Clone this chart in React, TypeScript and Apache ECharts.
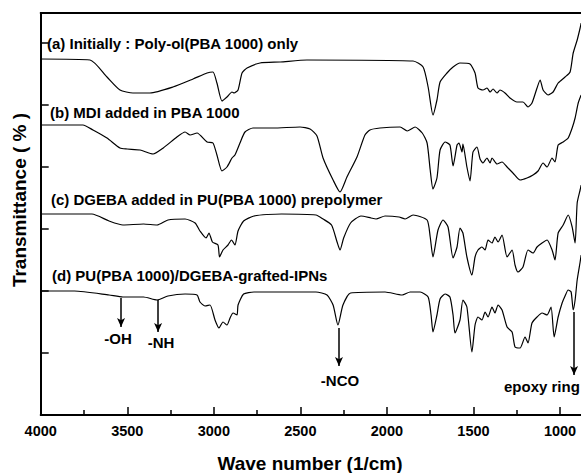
import React, { useEffect, useRef } from "react";
import * as echarts from "echarts";

// Wavenumber (1/cm) vs transmittance (arbitrary offset units)
const specA: [number, number][] = [
  [4000, 356], [3715, 355], [3617, 338], [3542, 325], [3467, 322], [3369, 322], [3236, 328],
  [3120, 336], [3039, 342], [3005, 343], [2982, 332], [2953, 314], [2924, 318], [2895, 323],
  [2883, 322], [2860, 325], [2837, 342], [2808, 347], [2733, 352], [2617, 353], [2462, 355],
  [1849, 354], [1791, 348], [1762, 328], [1734, 300], [1711, 315], [1693, 333], [1653, 342],
  [1618, 348], [1578, 352], [1520, 351], [1491, 342], [1474, 327], [1445, 325], [1422, 327],
  [1404, 323], [1387, 326], [1364, 322], [1347, 325], [1318, 322], [1289, 317], [1249, 313],
  [1214, 313], [1185, 308], [1162, 312], [1133, 327], [1115, 335], [1098, 325], [1069, 320],
  [1040, 323], [1011, 332], [971, 338], [942, 343], [924, 362], [901, 375], [884, 387], [878, 392],
];

const specB: [number, number][] = [
  [4000, 290], [3756, 290], [3698, 285], [3617, 277], [3542, 267], [3501, 266], [3426, 265],
  [3351, 261], [3292, 267], [3213, 278], [3166, 283], [3137, 280], [3097, 282], [3039, 273],
  [3005, 272], [2982, 260], [2953, 244], [2924, 248], [2895, 257], [2878, 260], [2849, 272],
  [2820, 283], [2774, 287], [2658, 287], [2502, 288], [2444, 286], [2404, 279], [2369, 257],
  [2311, 235], [2271, 223], [2231, 238], [2173, 258], [2127, 280], [2098, 285], [2040, 287],
  [1924, 288], [1883, 284], [1837, 288], [1796, 282], [1768, 272], [1750, 245], [1734, 226],
  [1711, 237], [1693, 265], [1664, 273], [1636, 270], [1618, 249], [1595, 270], [1584, 272],
  [1566, 263], [1561, 271], [1538, 248], [1520, 234], [1503, 263], [1480, 268], [1462, 256],
  [1445, 252], [1422, 257], [1404, 252], [1393, 257], [1364, 251], [1335, 253], [1306, 248],
  [1272, 242], [1231, 235], [1191, 237], [1156, 240], [1127, 244], [1098, 252], [1075, 248],
  [1046, 257], [1029, 253], [1011, 270], [982, 273], [953, 277], [930, 287], [913, 297],
  [895, 312], [878, 320],
];

const specC: [number, number][] = [
  [4000, 201], [3704, 201], [3605, 194], [3525, 190], [3406, 191], [3328, 190], [3265, 195],
  [3166, 196], [3108, 192], [3080, 184], [3045, 177], [3028, 182], [3008, 173], [2976, 170],
  [2967, 158], [2947, 165], [2918, 170], [2898, 175], [2878, 170], [2860, 184], [2828, 194],
  [2768, 199], [2609, 201], [2410, 200], [2369, 196], [2320, 190], [2288, 173], [2271, 165],
  [2250, 177], [2210, 192], [2150, 199], [2092, 197], [2063, 196], [2011, 199], [1930, 198],
  [1895, 196], [1849, 200], [1768, 195], [1750, 178], [1734, 158], [1705, 185], [1676, 195],
  [1647, 188], [1618, 157], [1595, 168], [1578, 187], [1561, 182], [1538, 158], [1509, 140],
  [1491, 158], [1474, 165], [1451, 168], [1433, 165], [1416, 175], [1393, 172], [1376, 178],
  [1358, 173], [1335, 180], [1306, 158], [1277, 165], [1260, 150], [1243, 143], [1214, 148],
  [1185, 165], [1156, 162], [1133, 168], [1104, 172], [1075, 175], [1046, 165], [1029, 155],
  [1011, 182], [982, 190], [953, 200], [930, 188], [913, 172], [901, 212], [884, 225], [878, 230],
];

const specD: [number, number][] = [
  [4000, 124], [3805, 124], [3605, 120], [3525, 118], [3406, 118], [3328, 115], [3265, 119],
  [3166, 121], [3097, 120], [3080, 113], [3051, 109], [3022, 110], [2993, 95], [2970, 87],
  [2947, 93], [2924, 90], [2906, 97], [2889, 102], [2866, 100], [2860, 110], [2828, 121],
  [2768, 123], [2609, 123], [2410, 123], [2346, 120], [2311, 110], [2283, 90], [2254, 110],
  [2210, 122], [2011, 123], [1912, 120], [1866, 123], [1808, 123], [1762, 118], [1745, 100],
  [1734, 83], [1711, 100], [1693, 116], [1664, 121], [1636, 118], [1618, 100], [1607, 82],
  [1578, 95], [1561, 115], [1538, 108], [1509, 63], [1491, 90], [1474, 98], [1451, 95],
  [1433, 103], [1416, 98], [1393, 108], [1376, 102], [1358, 110], [1335, 105], [1306, 88],
  [1277, 83], [1260, 68], [1231, 67], [1202, 78], [1185, 72], [1162, 92], [1133, 98],
  [1104, 102], [1075, 100], [1052, 108], [1034, 78], [1011, 98], [988, 112], [971, 119],
  [953, 125], [936, 123], [924, 105], [913, 115], [901, 135], [884, 153], [878, 160],
];

const seriesNames = [
  "(a) Initially : Poly-ol(PBA 1000) only",
  "(b) MDI added in PBA 1000",
  "(c) DGEBA added in PU(PBA 1000) prepolymer",
  "(d) PU(PBA 1000)/DGEBA-grafted-IPNs",
];

// arrows: [wavenumber, fromValue, toValue, label]
const arrowX = [3536, 3322, 2277, 919];
const arrowFrom = [117, 115, 87, 103];
const arrowTo = [88, 83, 49, 40];
const arrowLabels = ["-OH", "-NH", "-NCO", "epoxy ring"];

const xTitle = "Wave number (1/cm)";
const yTitle = "Transmittance ( % )";

const FONT = '"Liberation Sans", Arial, Helvetica, sans-serif';

export default function App() {
  const ref = useRef<HTMLDivElement>(null);
  useEffect(() => {
    if (!ref.current) return;
    const chart = echarts.init(ref.current, null, { renderer: "svg" });
    const lineSeries = [specA, specB, specC, specD].map((d, i) => ({
      type: "line",
      name: seriesNames[i],
      data: d,
      showSymbol: false,
      symbol: "none",
      smooth: 0.2,
      lineStyle: { color: "#000", width: 1.2 },
      silent: true,
      ...(i === 3
        ? {
            markLine: {
              silent: true,
              symbol: ["none", "arrow"],
              symbolSize: [6, 9],
              label: { show: false },
              lineStyle: { color: "#000", width: 1.5, type: "solid" },
              data: arrowX.map((x, k) => [
                { coord: [x, arrowFrom[k]] },
                { coord: [x, arrowTo[k]] },
              ]),
            },
          }
        : {}),
    }));

    const labelPos: [number, number][] = [
      [47, 43],
      [50, 112],
      [51, 199],
      [52, 275],
    ];
    const annPos: [number, number][] = [
      [118, 338],
      [161, 342],
      [340, 380],
      [504, 386],
    ];
    const textEl = (
      text: string,
      x: number,
      y: number,
      size: number,
      align: string,
      rotation = 0
    ) => ({
      type: "text",
      x,
      y,
      rotation,
      silent: true,
      style: {
        text,
        fill: "#000",
        font: `bold ${size}px ${FONT}`,
        textAlign: align,
        textVerticalAlign: "middle",
        align,
        verticalAlign: "middle",
      },
    });

    chart.setOption({
      animation: false,
      backgroundColor: "#fff",
      grid: { left: 40.7, right: 53.4, top: 13, bottom: 58, containLabel: false, outerBoundsMode: "none" },
      xAxis: [
        {
          type: "value",
          inverse: true,
          min: 500,
          max: 4000,
          interval: 500,
          position: "bottom",
          axisLine: { show: true, onZero: false, lineStyle: { color: "#000", width: 2 } },
          axisTick: { show: true, inside: true, length: 8, lineStyle: { color: "#000", width: 1.5 } },
          minorTick: { show: true, splitNumber: 2, length: 5, lineStyle: { color: "#000", width: 1.5 } },
          axisLabel: {
            color: "#000",
            fontSize: 14.5,
            fontWeight: "bold",
            fontFamily: FONT,
            margin: 8,
            formatter: (v: number) => (v < 1000 ? "" : String(v)),
          },
          splitLine: { show: false },
        },
        {
          type: "value",
          inverse: true,
          min: 500,
          max: 4000,
          position: "top",
          axisLine: { show: true, onZero: false, lineStyle: { color: "#000", width: 2 } },
          axisTick: { show: false },
          axisLabel: { show: false },
          splitLine: { show: false },
        },
      ],
      yAxis: {
        type: "value",
        min: 0,
        max: 402,
        interval: 62,
        axisLine: { show: true, onZero: false, lineStyle: { color: "#000", width: 2 } },
        axisTick: { show: true, inside: true, length: 8, lineStyle: { color: "#000", width: 1.5 } },
        axisLabel: { show: false },
        splitLine: { show: false },
      },
      series: lineSeries,
      graphic: [
        ...seriesNames.map((t, i) => textEl(t, labelPos[i][0], labelPos[i][1], 15, "left")),
        ...arrowLabels.map((t, i) =>
          textEl(t, annPos[i][0], annPos[i][1], 15, i === 3 ? "left" : "center")
        ),
        textEl(xTitle, 310, 463, 19, "center"),
        textEl(yTitle, 19, 200, 19, "center", Math.PI / 2),
      ],
    });
    return () => chart.dispose();
  }, []);
  return (
    <div
      style={{
        position: "fixed",
        left: 0,
        top: 0,
        width: 581,
        height: 473,
        overflow: "hidden",
        background: "#fff",
      }}
    >
      <div ref={ref} style={{ width: 700, height: 473 }} />
    </div>
  );
}
